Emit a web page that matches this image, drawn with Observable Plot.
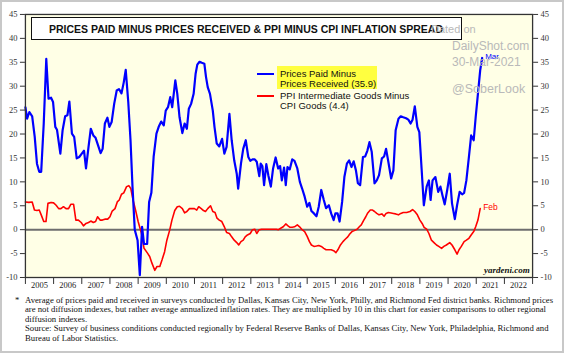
<!DOCTYPE html>
<html>
<head>
<meta charset="utf-8">
<script src="https://cdn.jsdelivr.net/npm/d3@7"></script>
<script src="https://cdn.jsdelivr.net/npm/@observablehq/plot@0.6"></script>
<style>
  html, body { margin: 0; padding: 0; background: #fff; }
  #wrap { position: relative; width: 564px; height: 353px; box-sizing: border-box; border: 2px solid #c8c8c8; overflow: hidden; }
  #chart { position: absolute; left: -2px; top: -2px; }
  .abs { position: absolute; white-space: nowrap; }
  .wm { color: #b9b9b9; font-family: "Liberation Sans", Arial, sans-serif; }
  .leg { font-family: "Liberation Sans", Arial, sans-serif; font-size: 9.5px; line-height: 9.7px; color: #111; }
  .foot { font-family: "Liberation Serif", "Times New Roman", serif; font-size: 8.7px; line-height: 9.4px; color: #111; }
</style>
</head>
<body>
<div id="wrap">
  <div id="chart"></div>
</div>
<script>
// ---- data (decimal year, value) ----
const paidT = [2005.00,2005.06,2005.14,2005.24,2005.33,2005.41,2005.49,2005.56,2005.65,2005.74,2005.82,2005.91,2005.98,
2006.06,2006.12,2006.24,2006.32,2006.41,2006.49,2006.56,2006.65,2006.73,2006.82,2006.91,
2007.00,2007.08,2007.15,2007.24,2007.32,2007.41,2007.49,2007.59,2007.67,2007.74,2007.82,2007.91,2007.98,
2008.06,2008.15,2008.24,2008.32,2008.41,2008.49,2008.56,2008.65,2008.73,2008.80,2008.88,2008.98,
2009.06,2009.14,2009.21,2009.32,2009.39,2009.47,2009.55,2009.65,2009.73,2009.82,2009.91,2009.98,
2010.06,2010.14,2010.21,2010.32,2010.39,2010.47,2010.57,2010.65,2010.73,2010.80,2010.88,2010.97,
2011.04,2011.10,2011.18,2011.26,2011.35,2011.41,2011.47,2011.55,2011.65,2011.71,2011.79,2011.88,2011.98,
2012.06,2012.14,2012.24,2012.32,2012.41,2012.50,2012.55,2012.65,2012.73,2012.82,2012.91,2012.98,
2013.06,2013.14,2013.21,2013.30,2013.35,2013.41,2013.47,2013.55,2013.62,2013.71,2013.79,2013.88,2013.97,
2014.04,2014.10,2014.18,2014.24,2014.30,2014.38,2014.47,2014.55,2014.65,2014.74,2014.82,2014.91,
2015.00,2015.08,2015.15,2015.24,2015.33,2015.41,2015.50,2015.59,2015.67,2015.77,2015.85,2015.94,
2016.00,2016.08,2016.15,2016.24,2016.32,2016.41,2016.49,2016.57,2016.65,2016.73,2016.80,2016.88,2016.98,
2017.06,2017.14,2017.21,2017.29,2017.39,2017.47,2017.55,2017.65,2017.73,2017.80,2017.88,2017.98,
2018.06,2018.14,2018.24,2018.32,2018.41,2018.51,2018.59,2018.67,2018.74,2018.82,2018.91,2018.98,
2019.06,2019.14,2019.24,2019.32,2019.38,2019.45,2019.55,2019.65,2019.73,2019.80,2019.88,2019.97,
2020.06,2020.14,2020.24,2020.32,2020.41,2020.50,2020.57,2020.65,2020.74,2020.82,2020.91,2020.98,
2021.06,2021.14,2021.21];
const paidV = [25.6,23.2,24.6,23.7,19.4,13.8,12.1,12.1,22.2,35.7,27.4,27.6,26.7,
21.5,20.9,15.9,20.8,23.7,23.9,26.8,20.1,19.4,14.9,15.2,
15.9,16.5,12.8,17.3,21.1,19.7,19.2,17.4,16.0,16.9,22.2,23.4,21.5,
22.5,26.3,29.1,29.4,28.5,30.8,33.4,26.7,18.7,9.0,0.0,-2.2,
-9.5,0.6,-3.0,-3.0,5.8,7.7,15.2,20.1,21.5,22.6,21.8,24.9,
25.6,27.7,25.6,31.2,28.4,23.5,20.2,22.2,21.1,25.3,26.3,28.4,
32.6,34.5,35.1,34.9,34.7,31.9,29.8,28.4,24.9,21.5,18.0,17.4,19.0,
15.9,17.3,24.2,18.7,14.5,11.7,8.6,13.8,16.9,18.7,15.2,14.4,
14.7,14.7,14.2,11.2,13.8,13.3,9.3,13.7,11.4,9.0,12.8,15.1,12.8,
13.3,10.3,13.0,9.3,13.1,12.6,14.7,14.4,12.8,10.0,8.6,6.9,
4.8,5.6,3.9,3.4,2.8,4.8,8.3,6.2,4.5,5.1,3.4,2.0,
3.4,3.4,1.7,5.8,11.0,13.8,14.5,13.1,14.3,12.4,9.7,9.3,15.2,
15.3,16.6,18.3,16.3,9.7,10.3,11.4,14.9,15.3,16.9,14.2,10.7,
12.4,20.8,23.2,23.7,23.5,23.3,23.0,22.2,23.0,25.8,21.5,20.4,
12.8,5.1,9.0,10.3,6.2,10.3,11.0,7.9,9.0,7.2,5.3,8.3,
11.7,5.5,2.2,5.1,7.9,7.4,7.7,10.3,15.2,19.7,18.7,23.5,
28.4,33.3,35.9];

const ppiT = [2005.00,2005.12,2005.24,2005.32,2005.41,2005.49,2005.56,2005.65,2005.73,2005.80,2005.91,
2006.00,2006.09,2006.18,2006.26,2006.35,2006.44,2006.53,2006.61,2006.71,2006.79,2006.88,2006.98,
2007.06,2007.15,2007.24,2007.32,2007.41,2007.49,2007.56,2007.65,2007.73,2007.82,2007.92,
2008.00,2008.08,2008.18,2008.26,2008.33,2008.41,2008.49,2008.59,2008.67,2008.74,2008.82,2008.92,
2009.00,2009.12,2009.21,2009.32,2009.41,2009.49,2009.59,2009.67,2009.77,2009.85,2009.94,
2010.02,2010.12,2010.20,2010.30,2010.39,2010.47,2010.57,2010.65,2010.73,2010.82,2010.91,
2011.00,2011.08,2011.15,2011.24,2011.32,2011.39,2011.47,2011.57,2011.65,2011.73,2011.80,2011.88,2011.97,
2012.06,2012.14,2012.24,2012.32,2012.41,2012.50,2012.57,2012.65,2012.73,2012.80,2012.88,2012.98,
2013.06,2013.14,2013.21,2013.30,2013.38,2013.47,2013.55,2013.65,2013.73,2013.82,2013.91,2013.98,
2014.06,2014.15,2014.24,2014.32,2014.39,2014.47,2014.55,2014.65,2014.73,2014.82,2014.91,
2015.00,2015.08,2015.15,2015.24,2015.33,2015.41,2015.50,2015.59,2015.67,2015.77,2015.85,2015.94,
2016.02,2016.09,2016.18,2016.27,2016.35,2016.44,2016.51,2016.59,2016.67,2016.77,2016.85,2016.92,
2017.00,2017.08,2017.15,2017.24,2017.32,2017.39,2017.47,2017.55,2017.65,2017.73,2017.80,2017.88,2017.98,
2018.06,2018.14,2018.24,2018.32,2018.41,2018.53,2018.65,2018.74,2018.82,2018.91,
2019.00,2019.08,2019.15,2019.24,2019.32,2019.41,2019.50,2019.59,2019.67,2019.77,2019.85,2019.94,
2020.06,2020.14,2020.24,2020.32,2020.39,2020.47,2020.57,2020.65,2020.74,2020.82,2020.91,2020.98,
2021.06,2021.14];
const ppiV = [5.8,5.7,5.8,4.1,4.0,4.1,3.1,1.7,1.7,5.5,5.7,
5.6,5.1,4.4,4.4,4.8,4.4,4.4,5.3,5.3,2.0,2.0,1.5,
0.8,1.3,1.5,1.8,1.5,1.7,2.7,2.0,2.0,2.2,2.2,
2.7,3.9,4.4,5.8,6.2,7.4,7.7,9.0,9.2,8.6,6.2,3.8,
1.7,-0.8,-3.9,-4.8,-5.6,-7.0,-8.5,-7.7,-7.7,-6.3,-4.6,
-2.2,-0.1,2.0,4.0,4.8,4.9,4.4,3.5,3.8,4.4,4.4,
4.4,4.1,4.8,4.4,4.0,3.8,4.4,5.0,3.8,3.6,2.4,2.0,1.7,
0.6,-0.6,-0.8,-1.5,-2.2,-2.7,-3.2,-2.5,-2.2,-1.5,-1.1,-0.8,
0.0,0.1,-0.8,0.0,0.1,0.1,0.1,0.1,0.1,0.1,0.1,0.0,
0.3,0.6,1.2,0.8,0.5,0.5,0.6,1.0,0.6,0.0,-0.4,
-1.4,-2.5,-3.2,-3.5,-3.4,-3.3,-3.5,-3.9,-4.2,-4.2,-4.2,-4.4,
-4.8,-4.2,-3.2,-2.5,-2.0,-1.5,-0.9,-0.4,-0.2,0.1,0.6,1.0,
1.9,2.7,3.5,4.1,4.1,3.8,3.4,3.1,3.3,2.8,3.4,3.6,3.5,
3.4,3.3,3.1,3.4,3.6,3.6,3.8,4.2,3.8,3.1,
2.0,1.3,0.5,0.1,-0.8,-2.2,-2.7,-3.2,-3.5,-3.9,-3.5,-3.2,
-2.7,-3.2,-4.2,-5.1,-4.2,-3.5,-2.5,-2.2,-1.8,-1.1,-0.4,0.6,
2.0,4.4];

const yearLabels = d3.range(2005, 2023);   // 2005 … 2022
const yTicks = d3.range(-10, 46, 5);
const paidLabel = "Prices Paid Minus|Prices Received (35.9)";
const ppiLabel = "PPI Intermediate Goods Minus|CPI Goods (4.4)";
const paidEnd = "Mar", ppiEnd = "Feb";

const paid = paidT.map((t, i) => ({t, v: paidV[i]}));
const ppi = ppiT.map((t, i) => ({t, v: ppiV[i]}));

const serif = "Liberation Serif, Times New Roman, serif";
const sans = "Liberation Sans, Arial, sans-serif";

const chart = Plot.plot({
  width: 564,
  height: 300,
  marginLeft: 25,
  marginRight: 30,
  marginTop: 14,
  marginBottom: 22,
  style: {background: "transparent", fontFamily: serif, fontSize: "8.5px", color: "#333"},
  x: {domain: [2005, 2023], axis: null},
  y: {domain: [-10, 45], axis: null},
  marks: [
    Plot.frame({fill: "#ffffe6"}),
    Plot.ruleY([0], {stroke: "#6e6e6e", strokeWidth: 2}),
    Plot.line(ppi, {x: "t", y: "v", stroke: "#ff0000", strokeWidth: 1.6}),
    Plot.line(paid, {x: "t", y: "v", stroke: "#0000ff", strokeWidth: 2.2}),
    Plot.text([paid[paid.length - 1]], {x: "t", y: "v", text: () => paidEnd, dx: 3, dy: -2, textAnchor: "start", fill: "#0000ff", fontFamily: sans, fontSize: 8}),
    Plot.text([ppi[ppi.length - 1]], {x: "t", y: "v", text: () => ppiEnd, dx: 3, dy: -1, textAnchor: "start", fill: "#ff0000", fontFamily: sans, fontSize: 8.5}),
    Plot.frame({stroke: "#333", strokeWidth: 1.3}),
    Plot.axisY({anchor: "left", ticks: yTicks, tickSize: 5, tickPadding: 3, tickFormat: d => String(d), label: null, fontSize: 8.5, fill: "#333", stroke: "#333"}),
    Plot.axisY({anchor: "right", ticks: yTicks, tickSize: 5, tickPadding: 3, tickFormat: d => String(d), label: null, fontSize: 8.5, fill: "#333", stroke: "#333"}),
    Plot.axisX({ticks: d3.range(2005, 2024), tickSize: 7, tickFormat: () => "", label: null, stroke: "#333"}),
    Plot.axisX({ticks: yearLabels.map(y => y + 0.5), tickSize: 0, tickPadding: 5, tickFormat: d => String(Math.floor(d)), label: null, fontSize: 8.5, fill: "#222"})
  ]
});
document.getElementById("chart").appendChild(chart);

const wrap = document.getElementById("wrap");
function add(html, cls, css) {
  const d = document.createElement("div");
  d.className = "abs " + (cls || "");
  d.innerHTML = html;
  Object.assign(d.style, css);
  wrap.appendChild(d);
  return d;
}
// title box
add("PRICES PAID MINUS PRICES RECEIVED &amp; PPI MINUS CPI INFLATION SPREAD", "", {
  left: "29px", top: "15px", width: "429px", height: "21px", border: "1px solid #111", background: "#fff",
  fontFamily: sans, fontWeight: "bold", fontSize: "10.5px", lineHeight: "22px",
  textIndent: "17px", boxSizing: "content-box", color: "#111"
});
// watermarks (offset by -2 for wrapper border)
add("Dated on", "wm", {left: "429px", top: "21px", fontSize: "11px"});
add("DailyShot.com", "wm", {left: "450px", top: "37px", fontSize: "12px"});
add("30-Mar-2021", "wm", {left: "450px", top: "53px", fontSize: "12px"});
add("@SoberLook", "wm", {left: "450px", top: "80px", fontSize: "12.5px"});
// legend
add("", "", {left: "255px", top: "71px", width: "17px", height: "2px", background: "#0000ff"});
add("", "", {left: "275px", top: "64px", width: "100px", height: "23px", background: "#ffff40"});
add(paidLabel.split("|").join("<br>"), "leg", {left: "278px", top: "67px"});
add("", "", {left: "255px", top: "93px", width: "17px", height: "2px", background: "#ff0000"});
add(ppiLabel.split("|").join("<br>"), "leg", {left: "278px", top: "89px"});
// source
add("yardeni.com", "", {left: "482px", top: "263px", fontFamily: serif, fontStyle: "italic", fontWeight: "bold", fontSize: "9px", color: "#111"});
// footnote
add("*", "foot", {left: "13px", top: "294px"});
add("Average of prices paid and received in surveys conducted by Dallas, Kansas City, New York, Philly, and Richmond Fed district banks. Richmond prices<br>are not diffusion indexes, but rather average annualized inflation rates. They are multiplied by 10 in this chart for easier comparisons to other regional<br>diffusion indexes.<br>Source: Survey of business conditions conducted regionally by Federal Reserve Banks of Dallas, Kansas City, New York, Philadelphia, Richmond and<br>Bureau of Labor Statistics.", "foot", {left: "23px", top: "294px"});
</script>
</body>
</html>
